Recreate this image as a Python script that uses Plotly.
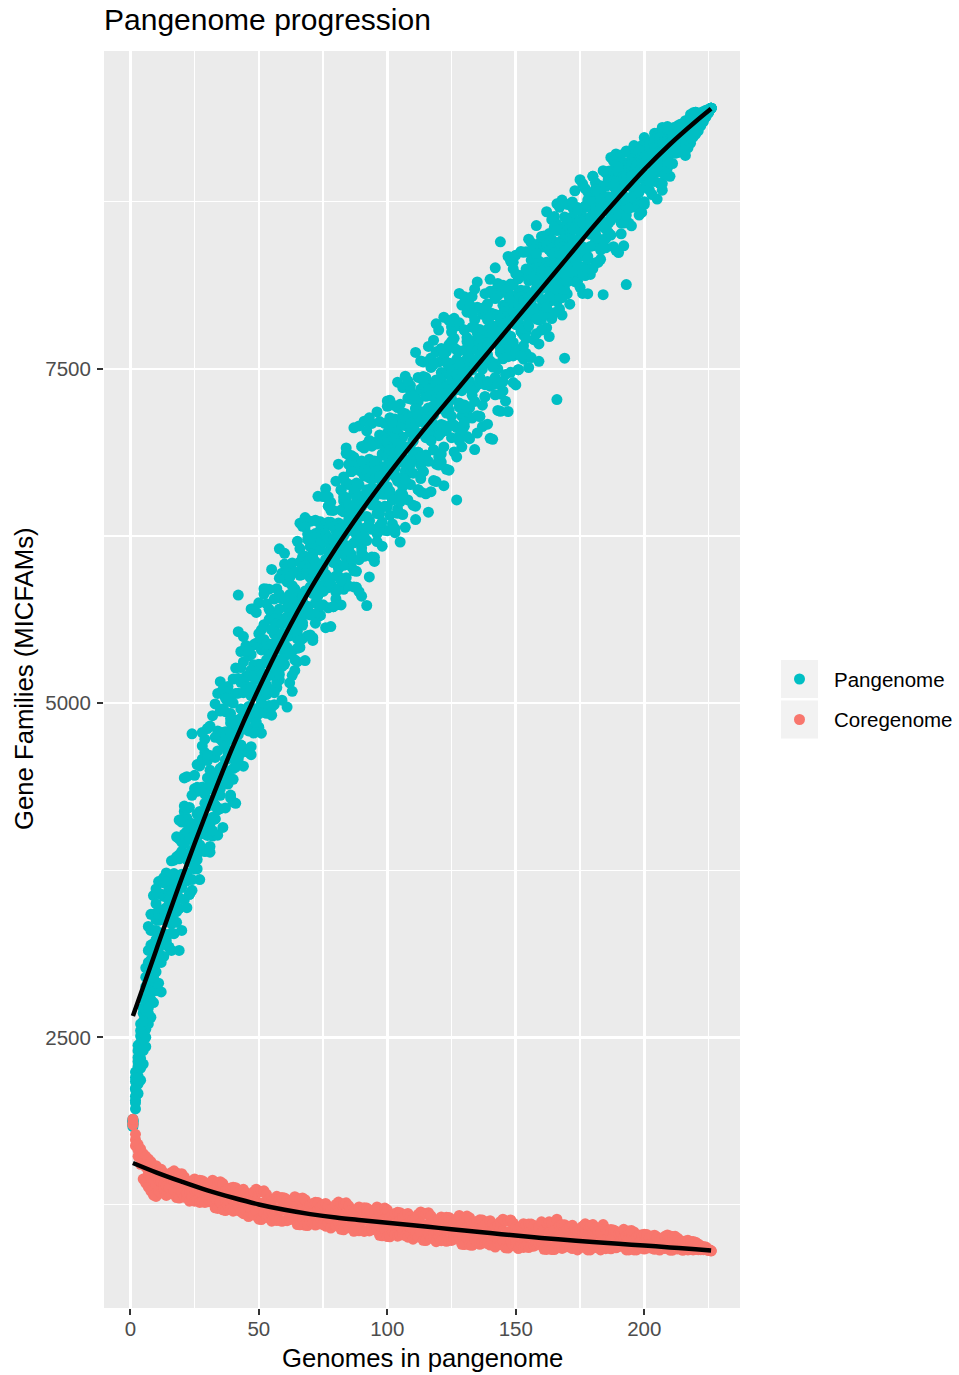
import plotly.graph_objects as go

# ---------------- data ----------------
genomes = list(range(1, 227))

# Pangenome size (gene families) for several random genome orderings, one row per genome count
pangenome = [
[1845, 1870, 1832, 1888, 1858, 1876],
[2060, 1965, 2170, 2010, 2240, 2110],
[2210, 2350, 2080, 2440, 2150, 2280],
[2420, 2180, 2510, 2340, 2600, 2270],
[2570, 2400, 2790, 2300, 2480, 2680],
[2650, 2880, 2430, 3020, 2760, 2560],
[2900, 2600, 3060, 2790, 3330, 2680],
[3030, 2780, 3420, 2650, 3190, 2900],
[3150, 3560, 2880, 3300, 2760, 3010],
[3230, 2990, 3610, 3090, 2850, 3380],
[2905, 3135, 3255, 3375, 3445, 3665],
[2840, 3060, 3450, 3280, 3400, 3570],
[3195, 3105, 3385, 3555, 3435, 3695],
[3220, 3270, 3370, 3660, 3730, 3470],
[3395, 3175, 3595, 3525, 3685, 3445],
[3150, 3350, 3580, 3700, 3530, 3820],
[3275, 3505, 3675, 3535, 3825, 3725],
[3360, 3570, 3710, 3660, 4000, 3470],
[3465, 3695, 3150, 3835, 3985, 4125],
[3620, 3720, 3300, 3960, 4130, 3870],
[3690, 3530, 4020, 4440, 3950, 4190],
[3470, 3730, 3870, 4040, 4140, 4450],
[3810, 3570, 4090, 3990, 4220, 3880],
[3600, 3860, 4100, 3900, 4310, 4770],
[3780, 3840, 3950, 4360, 4460, 4090],
[3870, 3760, 4100, 4340, 4170, 4540],
[3680, 3900, 4190, 4360, 4120, 4530],
[3900, 4170, 4030, 4370, 4580, 4780],
[3890, 4130, 4320, 4250, 4730, 4020],
[4110, 4230, 4010, 4570, 4810, 4440],
[4098, 3885, 4358, 4608, 4428, 4828],
[4006, 4276, 4476, 4406, 4906, 4146],
[4234, 4384, 4134, 4744, 4994, 4594],
[4012, 4312, 4462, 4642, 4752, 5072],
[4210, 4510, 4360, 4730, 4940, 5160],
[4428, 4070, 4778, 4528, 4708, 4958],
[4496, 4216, 4786, 4676, 4936, 4576],
[4394, 4454, 4584, 5014, 5124, 4724],
[4292, 4592, 4852, 4632, 5062, 4922],
[4260, 4510, 4820, 5000, 4750, 5180],
[4250, 4562, 4872, 5072, 4802, 5262],
[4544, 4844, 4684, 5074, 5808, 5534],
[4626, 4686, 4806, 5266, 5386, 4956],
[4528, 4808, 5078, 4848, 5308, 5158],
[4830, 4650, 5200, 4930, 5120, 5390],
[4892, 4632, 5202, 5082, 5352, 4972],
[4614, 4894, 5054, 5244, 5364, 5704],
[4916, 5056, 4816, 5436, 5706, 5286],
[4918, 4798, 5178, 5448, 5248, 5678],
[4820, 5080, 5290, 5220, 5750, 4960],
[5098, 4775, 5398, 5288, 5548, 5178],
[5066, 5216, 4966, 5586, 5856, 5436],
[4924, 5194, 5404, 5324, 5854, 5064],
[5102, 4982, 5362, 5627, 5442, 5852],
[4910, 5210, 5365, 5550, 5665, 6000],
[4988, 5288, 5558, 5328, 5778, 5628],
[5306, 5116, 5666, 5406, 5596, 5856],
[5174, 5479, 5324, 5704, 5934, 6154],
[5022, 5272, 5592, 5782, 5517, 5972],
[5290, 5350, 5480, 5930, 6040, 5630],
[4970, 5366, 5516, 5906, 6006, 5646],
[5152, 5502, 5752, 5552, 5942, 5812],
[5088, 5388, 5718, 5878, 5658, 6048],
[5574, 5244, 5854, 5754, 5984, 5654],
[5310, 5630, 5820, 5760, 6210, 5480],
[5416, 5766, 5596, 5956, 6156, 6346],
[5602, 5762, 5482, 6092, 6322, 5962],
[5318, 5668, 5838, 5998, 6098, 6388],
[5724, 5504, 6064, 5834, 6004, 6224],
[5660, 5510, 5940, 6170, 6000, 6360],
[5469, 5819, 6059, 5869, 6239, 6119],
[5668, 5748, 5898, 6268, 6368, 6018],
[5647, 5987, 5827, 6177, 6357, 6547],
[5876, 5656, 6206, 5986, 6146, 6356],
[5855, 6015, 5735, 6325, 6545, 6205],
[5564, 5914, 6074, 6234, 6324, 6604],
[5863, 5713, 6133, 6353, 6203, 6543],
[5572, 5872, 6192, 6352, 6132, 6502],
[6051, 5721, 6321, 6221, 6441, 6131],
[5780, 6100, 6290, 6220, 6660, 5950],
[5737, 6127, 6347, 6267, 6787, 5947],
[6124, 5734, 6444, 6334, 6594, 6224],
[6121, 5851, 6511, 6251, 6431, 6691],
[6088, 6278, 5938, 6648, 6908, 6498],
[6055, 5875, 6375, 6635, 6455, 6855],
[6022, 6112, 6292, 6732, 6852, 6442],
[5989, 6389, 6199, 6619, 6839, 7059],
[5866, 6286, 6566, 6346, 6786, 6646],
[5833, 6253, 6443, 6633, 6743, 7073],
[5800, 6160, 6550, 6730, 6470, 6920],
[6098, 6498, 6308, 6698, 6908, 7108],
[5730, 6216, 6596, 6766, 6526, 6936],
[5944, 6364, 6554, 6724, 6824, 7134],
[6092, 6482, 6682, 6612, 7092, 6302],
[6060, 6480, 6740, 6540, 6950, 6810],
[6418, 6598, 6268, 6938, 7178, 6808],
[6326, 6416, 6596, 7006, 7106, 6736],
[6564, 6174, 6864, 6764, 6994, 6654],
[6562, 6292, 6922, 6682, 6852, 7092],
[6470, 6290, 6780, 7020, 6850, 7220],
[6555, 6735, 6405, 7045, 7265, 6925],
[6520, 6340, 6820, 7040, 6890, 7230],
[6275, 6695, 6945, 6755, 7125, 7005],
[6450, 6840, 6660, 7030, 7210, 7400],
[6205, 6565, 6925, 7085, 6865, 7235],
[6410, 6800, 6990, 6920, 7360, 6620],
[6315, 6735, 6915, 7075, 7165, 7445],
[6790, 6520, 7130, 6910, 7070, 7280],
[6635, 6725, 6905, 7275, 7375, 7025],
[6870, 6480, 7150, 7050, 7270, 6960],
[6373, 6823, 7023, 7203, 7303, 7623],
[6876, 6596, 7256, 7016, 7186, 7436],
[6779, 6579, 7109, 7349, 7179, 7559],
[6732, 6832, 7022, 7442, 7552, 7162],
[6985, 6565, 7295, 7185, 7435, 7085],
[6428, 6808, 7208, 7388, 7138, 7558],
[6581, 7031, 7301, 7091, 7511, 7371],
[6664, 7084, 7294, 7224, 7714, 6894],
[6787, 7207, 7007, 7417, 7627, 7837],
[7000, 7200, 6840, 7550, 7790, 7410],
[7083, 6803, 7473, 7223, 7403, 7653],
[6626, 7076, 7276, 7456, 7566, 7886],
[7169, 6749, 7479, 7369, 7629, 7269],
[6742, 7192, 7472, 7252, 7682, 7542],
[6985, 7085, 7275, 7705, 7815, 7415],
[7078, 6878, 7408, 7658, 7478, 7878],
[6520, 7061, 7461, 7641, 7391, 7821],
[6994, 7414, 7214, 7634, 7844, 8064],
[6917, 7337, 7547, 7477, 7977, 7147],
[7230, 7430, 7070, 7790, 8040, 7640],
[7184, 6994, 7514, 7734, 7574, 7924],
[6978, 7408, 7598, 7538, 7978, 7208],
[7302, 7492, 7132, 7812, 8042, 7682],
[6896, 7356, 7546, 7706, 7806, 8096],
[7150, 7570, 7380, 7770, 7960, 8150],
[7434, 7144, 7794, 7564, 7724, 7954],
[7498, 7068, 7778, 7688, 7908, 7588],
[7292, 7382, 7582, 7962, 8062, 7712],
[7086, 7546, 7796, 7606, 7986, 7866],
[6980, 7370, 7760, 7920, 7690, 8080],
[6973, 7383, 7773, 7913, 7713, 8063],
[7306, 7736, 7536, 7906, 8086, 8256],
[7389, 7499, 7699, 8049, 8139, 7819],
[7182, 7652, 7892, 7722, 8072, 8450],
[7645, 7335, 7975, 7775, 7915, 8125],
[7698, 7258, 7968, 7888, 8088, 7798],
[7181, 7651, 7851, 7991, 8081, 8341],
[7644, 7844, 7474, 8134, 8334, 8014],
[7597, 7397, 7927, 8127, 7987, 8297],
[7380, 7830, 8010, 7950, 8350, 7620],
[7834, 7494, 8064, 7984, 8174, 7914],
[7778, 7938, 7648, 8198, 8378, 8088],
[7572, 7902, 8062, 8012, 8372, 7752],
[7776, 7616, 8036, 8216, 8086, 8376],
[7510, 7880, 8030, 8160, 8240, 8470],
[7584, 7954, 8164, 8004, 8314, 8214],
[7948, 7718, 8238, 8058, 8188, 8368],
[7762, 8102, 7952, 8262, 8412, 8572],
[7556, 7866, 8176, 8306, 8126, 8436],
[7870, 7940, 8100, 8410, 8490, 8200],
[7934, 7994, 8124, 8414, 8494, 8224],
[7808, 8108, 8298, 8148, 8438, 8675],
[7742, 8002, 8272, 8392, 8222, 8512],
[8156, 7876, 8366, 8296, 8466, 8216],
[7920, 8200, 8340, 8290, 8640, 8070],
[8004, 8294, 7270, 8444, 8584, 8734],
[8158, 8288, 8048, 8538, 8708, 8438],
[7902, 8202, 8342, 8462, 8542, 8762],
[8256, 7580, 8516, 8336, 8466, 8636],
[8190, 8060, 8410, 8590, 8460, 8730],
[7984, 8314, 8494, 8364, 8614, 8534],
[8178, 8248, 8388, 8638, 8708, 8468],
[8152, 8452, 8322, 8582, 8702, 8832],
[8366, 8156, 8606, 8456, 8566, 8706],
[8340, 8480, 8220, 8690, 8915, 8610],
[8064, 8394, 8524, 8634, 8694, 8884],
[8348, 8198, 8568, 8718, 8618, 8848],
[8062, 8342, 8612, 8722, 8572, 8822],
[8506, 8206, 8706, 8636, 8786, 8576],
[8250, 8560, 8690, 8640, 8940, 8420],
[8293, 8583, 8693, 8653, 8893, 8453],
[8586, 8296, 8746, 8696, 8816, 8646],
[8579, 8389, 8789, 8669, 8749, 8869],
[8562, 8692, 8055, 8862, 8982, 8792],
[8545, 8405, 8745, 8865, 8785, 8965],
[8518, 8588, 8718, 8918, 8978, 8788],
[8501, 8771, 8651, 8881, 8981, 9081],
[8414, 8724, 8864, 8764, 8964, 8904],
[8387, 8697, 8817, 8907, 8957, 9107],
[8370, 8630, 8880, 8960, 8840, 9050],
[8590, 8860, 8740, 8940, 9020, 9100],
[8420, 8680, 8900, 8970, 8880, 9040],
[8130, 8780, 8900, 8960, 9010, 9130],
[8590, 8870, 8960, 8930, 9120, 8740],
[8570, 8870, 8990, 8910, 9070, 9020],
[8820, 8940, 8710, 9080, 9170, 9020],
[8760, 8820, 8950, 9110, 9150, 9000],
[8930, 8650, 9060, 9020, 9120, 8980],
[8930, 8730, 9100, 9000, 9070, 9170],
[8860, 8730, 9050, 9150, 9080, 9230],
[8948, 9038, 8858, 9128, 9188, 9088],
[8926, 8836, 9076, 9136, 9091, 9186],
[8804, 9034, 9114, 9064, 9174, 9134],
[8902, 9102, 9012, 9152, 9212, 9262],
[8770, 8970, 9140, 9180, 9120, 9230],
[8888, 9098, 9163, 9148, 9268, 8998],
[8836, 9066, 9156, 9196, 9226, 9306],
[9104, 8954, 9224, 9164, 9204, 9274],
[9022, 9072, 9172, 9282, 9312, 9212],
[9160, 8940, 9250, 9230, 9290, 9200],
[9036, 9166, 9216, 9241, 9256, 9301],
[9192, 9112, 9262, 9227, 9252, 9287],
[9168, 9118, 9253, 9288, 9263, 9318],
[9164, 9194, 9254, 9314, 9329, 9274],
[9250, 9130, 9305, 9290, 9325, 9275],
[9096, 9206, 9306, 9331, 9296, 9356],
[9152, 9282, 9332, 9302, 9362, 9342],
[9188, 9308, 9343, 9333, 9403, 9248],
[9234, 9344, 9294, 9374, 9404, 9415],
[9300, 9355, 9255, 9405, 9420, 9385],
[9310, 9385, 9350, 9405, 9280, 9370],
[9345, 9400, 9320, 9380, 9415, 9360],
[9380, 9350, 9410, 9395, 9425, 9370],
[9400, 9385, 9425, 9410, 9435, 9395],
[9425, 9430, 9415, 9440, 9420, 9435],
[9450, 9450, 9450, 9450, 9450, 9450],
]

# Further orderings of the pangenome (dense middle of the cloud), one row per genome count
pangenome_more = [
[1850, 1866, 1880], [2030, 2120, 2200], [2180, 2320, 2400], [2300, 2460, 2550],
[2430, 2620, 2720], [2500, 2700, 2950], [2720, 2850, 3150], [2830, 3080, 3300],
[2950, 3200, 3420], [3050, 3300, 3500],
[3105, 3255, 3425], [3230, 3450, 3670], [3245, 3455, 3655], [3250, 3390, 3660],
[3175, 3525, 3595], [3280, 3430, 3600], [3365, 3455, 3605], [3440, 3590, 3850],
[3545, 3695, 3865], [3670, 3890, 4110],
[3680, 3950, 4230], [3670, 3830, 4210], [3570, 3990, 4090], [3680, 3840, 4070],
[3760, 3860, 4050], [3830, 4000, 4370], [3940, 4120, 4360], [4060, 4370, 4680],
[4080, 4350, 4630], [4070, 4230, 4610],
[3928, 4388, 4498], [4046, 4236, 4476], [4134, 4234, 4454], [4202, 4392, 4792],
[4310, 4510, 4760], [4448, 4778, 5098], [4456, 4756, 5036], [4434, 4624, 5014],
[4312, 4772, 4882], [4430, 4620, 4860],
[4522, 4622, 4842], [4584, 4764, 5184], [4686, 4886, 5156], [4808, 5158, 5498],
[4810, 5120, 5430], [4792, 4972, 5392], [4674, 5124, 5244], [4776, 4956, 5206],
[4858, 4958, 5178], [4920, 5100, 5520],
[5008, 5213, 5478], [5136, 5476, 5816], [5134, 5444, 5744], [5102, 5292, 5702],
[4970, 5440, 5550], [5078, 5268, 5518], [5156, 5256, 5476], [5214, 5404, 5814],
[5312, 5517, 5782], [5440, 5780, 6120],
[5416, 5716, 5976], [5372, 5582, 5942], [5208, 5718, 5818], [5324, 5549, 5784],
[5410, 5535, 5760], [5466, 5696, 6056], [5582, 5797, 6022], [5718, 6028, 6318],
[5704, 6004, 6264], [5660, 5870, 6230],
[5489, 5989, 6089], [5598, 5823, 6058], [5677, 5802, 6017], [5726, 5956, 6296],
[5835, 6045, 6265], [5964, 6264, 6544], [5943, 6233, 6473], [5892, 6102, 6442],
[5721, 6221, 6321], [5830, 6055, 6290],
[5857, 6007, 6267], [5914, 6184, 6594], [6031, 6281, 6541], [6178, 6538, 6868],
[6145, 6485, 6785], [6082, 6332, 6732], [5869, 6469, 6579], [5986, 6256, 6536],
[6073, 6223, 6483], [6130, 6400, 6810],
[6248, 6498, 6738], [6396, 6726, 7036], [6364, 6684, 6964], [6302, 6542, 6922],
[6090, 6680, 6780], [6208, 6478, 6738], [6296, 6446, 6696], [6354, 6624, 6994],
[6472, 6722, 6962], [6620, 6950, 7260],
[6585, 6895, 7135], [6520, 6760, 7100], [6305, 6875, 6975], [6420, 6690, 6940],
[6505, 6655, 6895], [6560, 6830, 7170], [6675, 6915, 7135], [6820, 7130, 7410],
[6785, 7095, 7335], [6720, 6960, 7300],
[6473, 7093, 7203], [6596, 6876, 7156], [6679, 6839, 7109], [6732, 7022, 7412],
[6855, 7115, 7365], [7008, 7348, 7668], [6961, 7301, 7581], [6894, 7154, 7534],
[6657, 7277, 7387], [6780, 7060, 7340],
[6863, 7023, 7293], [6916, 7206, 7606], [7039, 7299, 7549], [7192, 7542, 7862],
[7145, 7495, 7775], [7078, 7338, 7728], [6841, 7461, 7571], [6964, 7244, 7524],
[7047, 7207, 7477], [7100, 7390, 7790],
[7214, 7474, 7704], [7368, 7698, 7978], [7332, 7652, 7912], [7256, 7516, 7866],
[7020, 7640, 7730], [7144, 7434, 7694], [7228, 7398, 7658], [7292, 7582, 7932],
[7406, 7666, 7896], [7560, 7890, 8170],
[7513, 7823, 8063], [7436, 7706, 8026], [7189, 7819, 7899], [7312, 7622, 7872],
[7405, 7575, 7835], [7458, 7768, 8088], [7591, 7851, 8051], [7744, 8044, 8304],
[7697, 8007, 8247], [7620, 7890, 8210],
[7494, 7984, 8064], [7598, 7828, 8038], [7672, 7802, 8012], [7726, 7956, 8246],
[7820, 8030, 8210], [7954, 8214, 8444], [7928, 8188, 8388], [7872, 8082, 8362],
[7686, 8176, 8256], [7790, 8020, 8230],
[7904, 8014, 8194], [7958, 8148, 8418], [8042, 8222, 8392], [8156, 8396, 8616],
[8130, 8370, 8560], [8094, 8264, 8534], [7948, 8368, 8438], [8032, 8232, 8412],
[8096, 8206, 8386], [8150, 8340, 8610],
[8224, 8404, 8554], [8338, 8558, 8748], [8322, 8542, 8702], [8276, 8456, 8686],
[8110, 8540, 8610], [8204, 8414, 8594], [8268, 8388, 8568], [8322, 8532, 8762],
[8416, 8596, 8746], [8530, 8750, 8940],
[8513, 8703, 8843], [8476, 8646, 8826], [8319, 8719, 8769], [8412, 8602, 8762],
[8475, 8585, 8745], [8518, 8718, 8908], [8611, 8771, 8891], [8724, 8904, 9054],
[8697, 8887, 9027], [8660, 8830, 9010],
[8510, 8880, 8920], [8590, 8790, 8920], [8650, 8760, 8910], [8700, 8890, 9040],
[8780, 8940, 9030], [8890, 9040, 9160], [8860, 9030, 9140], [8820, 8980, 9130],
[8670, 9040, 9080], [8750, 8950, 9080],
[8858, 8948, 9058], [8896, 9046, 9146], [8964, 9084, 9144], [9052, 9152, 9232],
[9030, 9150, 9230], [8998, 9128, 9228], [8886, 9176, 9196], [8954, 9104, 9199],
[9002, 9092, 9202], [9040, 9190, 9290],
[9146, 9216, 9251], [9202, 9262, 9307], [9198, 9268, 9308], [9184, 9259, 9314],
[9130, 9290, 9305], [9176, 9256, 9311], [9207, 9252, 9317], [9228, 9318, 9373],
[9274, 9344, 9379], [9330, 9390, 9420],
[9330, 9360, 9395], [9350, 9375, 9400], [9365, 9390, 9410], [9390, 9405, 9420],
[9420, 9428, 9438], [9450, 9450, 9450],
]

# Core genome size (gene families), one row per genome count
coregenome = [
[1845, 1858, 1888], [1690, 1735, 1775], [1610, 1700, 1655], [1550, 1665, 1600],
[1440, 1570, 1630], [1410, 1530, 1610], [1380, 1480, 1590], [1350, 1450, 1570],
[1320, 1500, 1420], [1310, 1400, 1540], [1351, 1435, 1509], [1336, 1420, 1513],
[1363, 1404, 1487], [1318, 1389, 1461], [1344, 1375, 1466], [1330, 1440, 1490],
[1355, 1424, 1502], [1302, 1408, 1484], [1298, 1402, 1478], [1341, 1406, 1480],
[1304, 1409, 1457], [1309, 1338, 1424], [1275, 1343, 1410], [1309, 1348, 1425],
[1275, 1353, 1441], [1280, 1358, 1427], [1265, 1344, 1432], [1270, 1379, 1428],
[1265, 1345, 1414], [1270, 1300, 1390], [1275, 1315, 1396], [1281, 1351, 1432],
[1225, 1296, 1367], [1220, 1332, 1414], [1266, 1338, 1420], [1210, 1323, 1406],
[1205, 1277, 1350], [1242, 1283, 1366], [1216, 1300, 1373], [1200, 1285, 1379],
[1206, 1322, 1375], [1212, 1244, 1339], [1196, 1282, 1356], [1181, 1266, 1363],
[1208, 1251, 1337], [1160, 1236, 1311], [1188, 1220, 1318], [1172, 1292, 1346],
[1200, 1276, 1364], [1140, 1261, 1349], [1137, 1257, 1345], [1189, 1265, 1352],
[1153, 1272, 1326], [1160, 1193, 1290], [1125, 1200, 1276], [1165, 1208, 1293],
[1130, 1215, 1311], [1137, 1222, 1296], [1124, 1208, 1303], [1131, 1247, 1299],
[1129, 1213, 1286], [1137, 1168, 1262], [1145, 1187, 1270], [1154, 1226, 1308],
[1100, 1172, 1244], [1098, 1210, 1292], [1147, 1218, 1299], [1094, 1205, 1286],
[1092, 1162, 1233], [1130, 1170, 1250], [1108, 1188, 1258], [1096, 1176, 1266],
[1104, 1214, 1264], [1112, 1142, 1232], [1100, 1180, 1250], [1088, 1168, 1258],
[1116, 1156, 1236], [1074, 1144, 1214], [1102, 1132, 1222], [1090, 1200, 1250],
[1117, 1188, 1268], [1064, 1175, 1256], [1061, 1173, 1254], [1109, 1180, 1262],
[1076, 1188, 1240], [1083, 1114, 1207], [1049, 1121, 1194], [1088, 1129, 1212],
[1053, 1137, 1231], [1061, 1145, 1219], [1048, 1132, 1226], [1055, 1171, 1223],
[1052, 1136, 1210], [1060, 1091, 1186], [1067, 1109, 1193], [1075, 1148, 1232],
[1019, 1093, 1166], [1016, 1132, 1216], [1066, 1139, 1223], [1010, 1126, 1210],
[1008, 1082, 1155], [1048, 1090, 1174], [1025, 1109, 1183], [1013, 1097, 1191],
[1021, 1137, 1189], [1030, 1061, 1156], [1017, 1101, 1175], [1005, 1089, 1183],
[1034, 1076, 1160], [990, 1064, 1137], [1020, 1051, 1146], [1007, 1123, 1175],
[1037, 1110, 1194], [982, 1098, 1182], [980, 1096, 1180], [1031, 1104, 1188],
[997, 1113, 1165], [1006, 1037, 1132], [972, 1046, 1119], [1012, 1054, 1138],
[979, 1063, 1157], [987, 1072, 1145], [975, 1059, 1154], [983, 1100, 1153],
[981, 1066, 1140], [990, 1022, 1118], [999, 1041, 1126], [1008, 1082, 1168],
[952, 1027, 1102], [950, 1068, 1154], [1002, 1077, 1163], [947, 1065, 1151],
[945, 1020, 1096], [987, 1030, 1116], [964, 1050, 1125], [952, 1038, 1135],
[961, 1079, 1133], [970, 1003, 1099], [958, 1044, 1119], [946, 1032, 1129],
[976, 1019, 1105], [932, 1007, 1082], [962, 994, 1091], [950, 1067, 1121],
[980, 1055, 1140], [926, 1043, 1127], [924, 1041, 1125], [976, 1050, 1134],
[942, 1058, 1111], [952, 983, 1078], [920, 993, 1066], [961, 1003, 1086],
[929, 1013, 1106], [939, 1022, 1095], [928, 1011, 1104], [938, 1052, 1103],
[938, 1020, 1092], [947, 978, 1071], [957, 998, 1080], [966, 1038, 1120],
[915, 987, 1059], [914, 1027, 1110], [966, 1038, 1120], [913, 1027, 1110],
[913, 985, 1058], [958, 1003, 1140], [933, 1019, 1093], [921, 1005, 1099],
[932, 1047, 1099], [941, 972, 1066], [931, 1013, 1085], [920, 1002, 1094],
[951, 991, 1072], [910, 980, 1051], [940, 970, 1059], [930, 1038, 1087],
[959, 1027, 1105], [910, 1017, 1094], [910, 1016, 1092], [958, 1024, 1100],
[929, 1032, 1078], [938, 965, 1048], [910, 973, 1037], [948, 986, 1100],
[919, 989, 1068], [927, 996, 1056], [918, 986, 1062], [927, 1018, 1059],
[926, 992, 1049], [934, 958, 1030], [941, 973, 1036], [949, 1002, 1064],
[910, 963, 1016], [910, 991, 1051], [946, 997, 1055], [910, 988, 1045],
[910, 959, 1007], [937, 964, 1019], [923, 977, 1023], [917, 969, 1027],
[923, 993, 1025], [929, 948, 1005], [922, 972, 1015], [915, 964, 1020],
[933, 957, 1006], [909, 951, 992], [927, 944, 997], [920, 983, 1012],
[937, 976, 1022], [908, 970, 1014], [908, 967, 1011], [934, 970, 1012],
[917, 973, 998], [922, 936, 980], [907, 940, 972], [924, 942, 977],
[910, 944, 982], [914, 946, 973], [910, 939, 973], [913, 951, 968],
[912, 935, 955], [912, 919, 941], [912, 920, 935], [912, 918, 931],
[905, 910, 916], [903, 903, 903],
]

# Smoothed trend lines
fit_x = [1, 10, 20, 30, 40, 50, 60, 70, 80, 90, 100, 110, 120, 130, 140, 150, 160, 170, 180, 190, 200, 210, 220, 226]
pan_fit = [2660, 3150, 3690, 4200, 4680, 5110, 5500, 5850, 6160, 6440, 6700, 6945, 7180, 7410, 7640, 7870, 8100, 8330, 8560, 8780, 8990, 9180, 9350, 9445]
core_fit = [1560, 1490, 1420, 1355, 1300, 1250, 1210, 1178, 1152, 1132, 1113, 1094, 1075, 1055, 1036, 1018, 1000, 984, 970, 956, 943, 929, 915, 906]

series_names = ["Pangenome", "Coregenome"]
series_colors = ["#00BFC4", "#F8766D"]
x_ticks = [0, 50, 100, 150, 200]
y_ticks = [2500, 5000, 7500]

# ---------------- figure ----------------
W, H = 959, 1375
FONT = "Liberation Sans, Arial, Helvetica, sans-serif"
MSIZE = 11

def flat(*tables):
    xs, ys = [], []
    for rows in tables:
        for g, row in zip(genomes, rows):
            for v in row:
                xs.append(g)
                ys.append(v)
    return xs, ys

px_, py_ = flat(pangenome, pangenome_more)
cx_, cy_ = flat(coregenome)

fig = go.Figure()
fig.add_trace(go.Scatter(x=px_, y=py_, mode="markers", name=series_names[0],
                         marker=dict(color=series_colors[0], size=MSIZE, line=dict(width=0)),
                         showlegend=False, hoverinfo="skip"))
fig.add_trace(go.Scatter(x=cx_, y=cy_, mode="markers", name=series_names[1],
                         marker=dict(color=series_colors[1], size=MSIZE, line=dict(width=0)),
                         showlegend=False, hoverinfo="skip"))
fig.add_trace(go.Scatter(x=fit_x, y=pan_fit, mode="lines", line=dict(color="black", width=4.5, shape="spline"),
                         showlegend=False, hoverinfo="skip"))
fig.add_trace(go.Scatter(x=fit_x, y=core_fit, mode="lines", line=dict(color="black", width=4.5, shape="spline"),
                         showlegend=False, hoverinfo="skip"))

# ggplot-style expanded ranges (5 %)
xmin, xmax = min(genomes), max(genomes)
allv = py_ + cy_
ymin, ymax = min(allv), max(allv)
xpad = 0.05 * (xmax - xmin)
ypad = 0.05 * (ymax - ymin)
xr = [xmin - xpad, xmax + xpad]
yr = [ymin - ypad, ymax + ypad]

def minor_between(ticks, lo, hi):
    step = ticks[1] - ticks[0]
    vals = [ticks[0] - step / 2] + [t + step / 2 for t in ticks]
    return [v for v in vals if lo <= v <= hi]

# panel placement (pixels)
PL, PR, PT, PB = 104, 740, 51, 1308

axis_common = dict(
    showgrid=True, gridcolor="white", gridwidth=2.6,
    zeroline=False, showline=False,
    ticks="outside", ticklen=6, tickwidth=2, tickcolor="#333333",
    tickfont=dict(family=FONT, size=20.5, color="#4D4D4D"),
    automargin=False, fixedrange=True,
)

fig.update_layout(
    template="none",
    width=W, height=H,
    margin=dict(l=0, r=0, t=0, b=0),
    paper_bgcolor="white", plot_bgcolor="rgba(0,0,0,0)",
    font=dict(family=FONT, color="black"),
    showlegend=False,
    xaxis=dict(domain=[PL / W, PR / W], range=xr, tickvals=x_ticks,
               minor=dict(tickvals=minor_between(x_ticks, xr[0], xr[1]), showgrid=True,
                          gridcolor="white", gridwidth=1.3, ticks=""),
               ticklabelstandoff=-4, **axis_common),
    yaxis=dict(domain=[1 - PB / H, 1 - PT / H], range=yr, tickvals=y_ticks,
               minor=dict(tickvals=minor_between(y_ticks, yr[0], yr[1]), showgrid=True,
                          gridcolor="white", gridwidth=1.3, ticks=""),
               ticklabelstandoff=2, **axis_common),
    # small pixel-space axes used only for the legend keys
    xaxis2=dict(domain=[770 / W, 1.0], range=[770, W], visible=False, fixedrange=True),
    yaxis2=dict(domain=[1 - 745 / H, 1 - 655 / H], range=[745, 655], visible=False, fixedrange=True),
)

# panel background
fig.add_shape(type="rect", xref="x domain", yref="y domain", x0=0, x1=1, y0=0, y1=1,
              fillcolor="#EBEBEB", line=dict(width=0), layer="below")

# legend keys
key_y = [679, 719.5]
for i, (name, col) in enumerate(zip(series_names, series_colors)):
    fig.add_shape(type="rect", xref="x2", yref="y2", x0=781, x1=818,
                  y0=key_y[i] - 19, y1=key_y[i] + 19,
                  fillcolor="#F2F2F2", line=dict(width=0), layer="below")
    fig.add_annotation(xref="x2", yref="y2", x=832, y=key_y[i], text=name, showarrow=False,
                       xanchor="left", yanchor="middle", font=dict(family=FONT, size=20.5, color="black"))
fig.add_trace(go.Scatter(x=[799.5, 799.5], y=key_y, xaxis="x2", yaxis="y2", mode="markers",
                         marker=dict(color=series_colors, size=MSIZE), showlegend=False,
                         hoverinfo="skip", cliponaxis=False))

# titles
fig.add_annotation(xref="paper", yref="paper", x=102 / W, y=1 - 20 / H, text="Pangenome progression",
                   showarrow=False, xanchor="left", yanchor="middle",
                   font=dict(family=FONT, size=30, color="black"))
fig.add_annotation(xref="paper", yref="paper", x=422 / W, y=1 - 1358 / H, text="Genomes in pangenome",
                   showarrow=False, xanchor="center", yanchor="middle",
                   font=dict(family=FONT, size=25.7, color="black"))
fig.add_annotation(xref="paper", yref="paper", x=24 / W, y=1 - 679 / H, text="Gene Families (MICFAMs)",
                   showarrow=False, xanchor="center", yanchor="middle", textangle=-90,
                   font=dict(family=FONT, size=25.7, color="black"))

fig.write_html("out.html", config={"displayModeBar": False, "staticPlot": True},
               post_script="document.body.style.margin='0';document.body.style.overflow='hidden';")
